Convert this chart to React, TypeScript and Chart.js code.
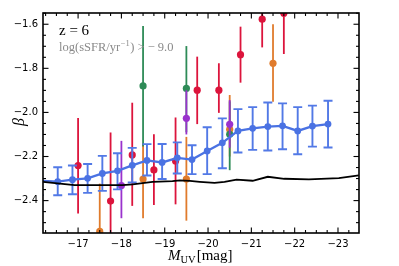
import React, { useEffect, useRef } from "react";
import { Chart, registerables } from "chart.js";
Chart.register(...registerables);

// ---- axis ticks ----
const xTicks = [-17, -18, -19, -20, -21, -22, -23];
const yTicks = [-2.4, -2.2, -2.0, -1.8, -1.6];

// ---- simulation median (blue, with error bars) ----
const blueX = [-16.1, -16.53, -16.87, -17.22, -17.56, -17.91, -18.25, -18.59, -18.94, -19.29, -19.63, -19.98, -20.33, -20.69, -21.03, -21.38, -21.72, -22.07, -22.41, -22.77];
const blueY = [-2.31, -2.314, -2.305, -2.299, -2.277, -2.265, -2.24, -2.218, -2.227, -2.206, -2.214, -2.175, -2.138, -2.084, -2.072, -2.064, -2.061, -2.084, -2.062, -2.053];
const blueHi = [-2.25, -2.249, -2.241, -2.234, -2.197, -2.185, -2.161, -2.144, -2.143, -2.136, -2.149, -2.067, -2.027, -1.985, -1.976, -1.955, -1.959, -1.976, -1.969, -1.947];
const blueLo = [-2.375, -2.376, -2.371, -2.365, -2.356, -2.349, -2.318, -2.286, -2.302, -2.277, -2.28, -2.28, -2.253, -2.182, -2.17, -2.173, -2.167, -2.19, -2.155, -2.159];

// ---- black reference line ----
const blackX = [-16.19, -16.58, -16.92, -17.5, -18.03, -18.26, -18.72, -19.18, -19.35, -19.58, -19.81, -20.15, -20.38, -20.66, -21.03, -21.38, -21.76, -22.33, -23.02, -23.48];
const blackY = [-2.315, -2.323, -2.33, -2.33, -2.33, -2.326, -2.315, -2.312, -2.308, -2.311, -2.315, -2.32, -2.315, -2.305, -2.31, -2.292, -2.301, -2.304, -2.298, -2.286];

// ---- observations ----
const redX = [-17.0, -17.75, -18.25, -18.75, -19.25, -19.75, -20.25, -20.75, -21.25, -21.75];
const redY = [-2.241, -2.402, -2.193, -2.261, -2.22, -1.899, -1.899, -1.738, -1.577, -1.55];
const redHi = [-2.025, -2.091, -1.956, -2.099, -2.023, -1.747, -1.777, -1.611, -1.45, -1.45];
const redLo = [-2.458, -2.65, -2.424, -2.42, -2.417, -2.053, -2.002, -1.865, -1.705, -1.735];

const orangeX = [-17.5, -18.5, -19.5, -20.5, -21.5];
const orangeY = [-2.54, -2.302, -2.302, -2.077, -1.777];
const orangeHi = [-2.323, -2.141, -2.111, -1.921, -1.6];
const orangeLo = [-2.75, -2.48, -2.491, -2.2, -1.952];

const greenX = [-18.5, -19.5, -20.5];
const greenY = [-1.88, -1.891, -2.099];
const greenHi = [-1.608, -1.699, -1.95];
const greenLo = [-2.155, -2.09, -2.262];

const purpleX = [-18.0, -19.5, -20.5];
const purpleY = [-2.332, -2.027, -2.054];
const purpleHi = [-2.129, -1.9, -1.944];
const purpleLo = [-2.48, -2.1, -2.16];

const W = 399;
const H = 266;

const pts = (xs: number[], ys: number[]) => xs.map((x, i) => ({ x, y: ys[i] }));
const minus = (s: string) => s.replace("-", "\u2212");

const errorBars = {
  id: "errorBars",
  beforeDatasetDraw(chart: any, args: any) {
    const ds: any = chart.data.datasets[args.index];
    if (!ds.errHi) return;
    const { ctx, chartArea: a, scales } = chart;
    const xs = scales.x, ys = scales.y;
    ctx.save();
    ctx.beginPath();
    ctx.rect(a.left, a.top, a.right - a.left, a.bottom - a.top);
    ctx.clip();
    ctx.strokeStyle = ds.errColor;
    ctx.lineWidth = ds.errWidth;
    ctx.lineCap = "butt";
    ds.data.forEach((p: any, i: number) => {
      const px = xs.getPixelForValue(p.x);
      const t = ys.getPixelForValue(ds.errHi[i]);
      const b = ys.getPixelForValue(ds.errLo[i]);
      ctx.beginPath();
      ctx.moveTo(px, t);
      ctx.lineTo(px, b);
      if (ds.capSize) {
        ctx.moveTo(px - ds.capSize, t);
        ctx.lineTo(px + ds.capSize, t);
        ctx.moveTo(px - ds.capSize, b);
        ctx.lineTo(px + ds.capSize, b);
      }
      ctx.stroke();
    });
    ctx.restore();
  },
};

const frame = {
  id: "frame",
  afterDraw(chart: any) {
    const { ctx, chartArea: a, scales } = chart;
    const xs = scales.x, ys = scales.y;
    ctx.save();
    ctx.strokeStyle = "#000";
    ctx.lineWidth = 1.1;
    const tick = (x1: number, y1: number, x2: number, y2: number) => {
      ctx.beginPath();
      ctx.moveTo(x1, y1);
      ctx.lineTo(x2, y2);
      ctx.stroke();
    };
    // x ticks every 0.25, major every 1
    for (let q = -94; q <= -64; q++) {
      const v = q / 4;
      const px = xs.getPixelForValue(v);
      if (px < a.left || px > a.right) continue;
      const len = q % 4 === 0 ? 5.5 : 3;
      tick(px, a.bottom, px, a.bottom - len);
      tick(px, a.top, px, a.top + len);
    }
    // y ticks every 0.05, major every 0.2
    for (let q = -52; q <= -30; q++) {
      const v = q / 20;
      const py = ys.getPixelForValue(v);
      if (py < a.top || py > a.bottom) continue;
      const len = q % 4 === 0 ? 5.5 : 3;
      tick(a.left, py, a.left + len, py);
      tick(a.right, py, a.right - len, py);
    }
    ctx.lineWidth = 1.6;
    ctx.strokeRect(a.left, a.top, a.right - a.left, a.bottom - a.top);

    // annotations
    ctx.fillStyle = "#000";
    ctx.textBaseline = "alphabetic";
    ctx.textAlign = "left";
    ctx.font = "15px 'Liberation Serif'";
    ctx.fillText("z = 6", 59, 35);

    ctx.fillStyle = "#8a8a8a";
    let x = 59;
    const base = 51;
    ctx.font = "12.5px 'Liberation Serif'";
    const t1 = "log(sSFR/yr";
    ctx.fillText(t1, x, base);
    x += ctx.measureText(t1).width;
    ctx.font = "8.5px 'Liberation Serif'";
    const sup = "\u22121";
    ctx.fillText(sup, x + 0.5, base - 5);
    x += ctx.measureText(sup).width + 1;
    ctx.font = "12.5px 'Liberation Serif'";
    ctx.fillText(") > \u2212 9.0", x, base);

    // x label
    ctx.fillStyle = "#000";
    let lx = 168;
    const lb = 259.5;
    ctx.font = "italic 15px 'Liberation Serif'";
    ctx.fillText("M", lx, lb);
    lx += ctx.measureText("M").width;
    ctx.font = "10.5px 'Liberation Serif'";
    ctx.fillText("UV", lx, lb + 3);
    lx += ctx.measureText("UV").width + 1;
    ctx.font = "15px 'Liberation Serif'";
    ctx.fillText("[mag]", lx, lb);

    // y label
    ctx.save();
    ctx.translate(20, 122);
    ctx.rotate(-Math.PI / 2);
    ctx.textAlign = "center";
    ctx.textBaseline = "middle";
    ctx.font = "italic 16px 'Liberation Serif'";
    ctx.fillText("\u03b2", 0, 0);
    ctx.restore();
    ctx.restore();
  },
};

export default function App() {
  const ref = useRef<HTMLCanvasElement>(null);
  useEffect(() => {
    if (!ref.current) return;
    const obs = (label: string, xs: number[], ys: number[], hi: number[], lo: number[], color: string, order: number) => ({
      type: "line" as const,
      label,
      data: pts(xs, ys),
      showLine: false,
      pointRadius: 3.6,
      pointBackgroundColor: color,
      pointBorderWidth: 0,
      borderColor: color,
      errHi: hi,
      errLo: lo,
      errColor: color,
      errWidth: 1.8,
      order,
      clip: 0,
    });
    const chart = new Chart(ref.current, {
      type: "line",
      data: {
        datasets: [
          {
            label: "ref",
            data: pts(blackX, blackY),
            borderColor: "#000",
            borderWidth: 1.8,
            pointRadius: 0,
            order: 0,
            clip: 0,
          } as any,
          {
            label: "sim",
            data: pts(blueX, blueY),
            borderColor: "#4a72e3",
            borderWidth: 2.3,
            pointRadius: 3.4,
            pointBackgroundColor: "#4a72e3",
            pointBorderWidth: 0,
            errHi: blueHi,
            errLo: blueLo,
            errColor: "#5279e6",
            errWidth: 1.9,
            capSize: 4.5,
            order: 1,
            clip: 0,
          } as any,
          obs("purple", purpleX, purpleY, purpleHi, purpleLo, "#9a32cd", 2) as any,
          obs("green", greenX, greenY, greenHi, greenLo, "#2e8b57", 3) as any,
          obs("orange", orangeX, orangeY, orangeHi, orangeLo, "#e07b2c", 4) as any,
          obs("red", redX, redY, redHi, redLo, "#dc143c", 5) as any,
        ],
      },
      options: {
        animation: false,
        responsive: false,
        devicePixelRatio: 1,
        layout: { padding: { top: 13, right: 40, left: 0, bottom: 0 } },
        plugins: { legend: { display: false }, tooltip: { enabled: false } },
        scales: {
          x: {
            type: "linear",
            min: -23.485,
            max: -16.19,
            reverse: true,
            afterBuildTicks: (s: any) => {
              s.ticks = xTicks.map((v) => ({ value: v }));
            },
            afterFit: (s: any) => {
              s.height = 33;
            },
            grid: { display: false, drawTicks: false },
            border: { display: false },
            ticks: {
              color: "#000",
              padding: 5,
              maxRotation: 0,
              autoSkip: false,
              font: { family: "'DejaVu Sans'", size: 10 },
              callback: (v: any) => minus(Number(v).toFixed(0)),
            },
          },
          y: {
            type: "linear",
            min: -2.547,
            max: -1.549,
            afterBuildTicks: (s: any) => {
              s.ticks = yTicks.map((v) => ({ value: v }));
            },
            afterFit: (s: any) => {
              s.width = 43;
            },
            grid: { display: false, drawTicks: false },
            border: { display: false },
            ticks: {
              color: "#000",
              padding: 5,
              autoSkip: false,
              font: { family: "'DejaVu Sans'", size: 10 },
              callback: (v: any) => minus(Number(v).toFixed(1)),
            },
          },
        },
      } as any,
      plugins: [errorBars, frame],
    });
    return () => chart.destroy();
  }, []);
  return (
    <div style={{ position: "fixed", left: 0, top: 0, width: W, height: H, background: "#fff" }}>
      <canvas ref={ref} width={W} height={H} style={{ display: "block", width: W, height: H }} />
    </div>
  );
}
